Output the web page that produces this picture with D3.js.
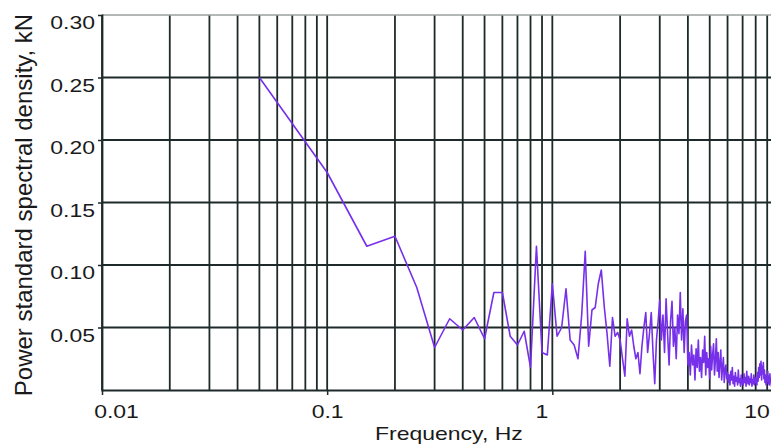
<!DOCTYPE html>
<html>
<head>
<meta charset="utf-8">
<script src="https://cdn.jsdelivr.net/npm/d3@7"></script>
<style>
  body { margin: 0; background: #ffffff; }
  svg { display: block; }
  text { font-family: "Liberation Sans", Arial, sans-serif; fill: #1a1a1a; }
</style>
</head>
<body>
<svg id="chart" width="771" height="447"></svg>
<script>
// frequency resolution of the spectrum (Hz); point i sits at (i + 1) * df
var df = 0.05;

// power standard spectral density, kN
var psd = [
  0.250, 0.174, 0.115, 0.123, 0.082, 0.034, 0.057, 0.048, 0.058, 0.041,
  0.078, 0.078, 0.043, 0.036, 0.047, 0.018, 0.115, 0.030, 0.028, 0.085,
  0.043, 0.050, 0.081, 0.040, 0.036, 0.025, 0.060, 0.111, 0.035, 0.064,
  0.066, 0.085, 0.096, 0.067, 0.045, 0.019, 0.058, 0.043, 0.046, 0.040,
  0.025, 0.011, 0.057, 0.043, 0.048, 0.035, 0.025, 0.030, 0.013, 0.035,
  0.050, 0.062, 0.030, 0.045, 0.062, 0.030, 0.005, 0.040, 0.055, 0.072,
  0.040, 0.060, 0.030, 0.073, 0.045, 0.020, 0.055, 0.071, 0.035, 0.050,
  0.025, 0.060, 0.045, 0.078, 0.040, 0.065, 0.030, 0.055, 0.060, 0.020,
  0.030, 0.012, 0.036, 0.020, 0.028, 0.008, 0.033, 0.018, 0.040, 0.015,
  0.026, 0.010, 0.032, 0.022, 0.043, 0.012, 0.030, 0.018, 0.025, 0.009,
  0.035, 0.016, 0.028, 0.037, 0.012, 0.024, 0.041, 0.015, 0.030, 0.010,
  0.022, 0.032, 0.008, 0.018, 0.026, 0.006, 0.016, 0.020, 0.009, 0.014,
  0.006, 0.012, 0.004, 0.015, 0.008, 0.018, 0.005, 0.011, 0.003, 0.014,
  0.007, 0.010, 0.004, 0.016, 0.006, 0.009, 0.003, 0.012, 0.005, 0.008,
  0.004, 0.013, 0.006, 0.010, 0.003, 0.015, 0.007, 0.005, 0.011, 0.004,
  0.009, 0.006, 0.013, 0.003, 0.008, 0.005, 0.012, 0.004, 0.010, 0.006,
  0.009, 0.004, 0.014, 0.007, 0.018, 0.010, 0.021, 0.012, 0.023, 0.008,
  0.019, 0.013, 0.022, 0.009, 0.016, 0.006, 0.012, 0.004, 0.010, 0.007,
  0.015, 0.005, 0.011, 0.004, 0.013, 0.006, 0.009, 0.003, 0.008, 0.005
];

var yTicks = [0.05, 0.10, 0.15, 0.20, 0.25, 0.30];
var xTicks = [0.01, 0.1, 1, 10];
var xTickLabels = ["0.01", "0.1", "1", "10"];

var xTitle = "Frequency, Hz";
var yTitle = "Power standard spectral density, kN";

var svg = d3.select("#chart");
var W = 771;
var plotTop = 15, plotBottom = 390;

var x = d3.scaleLog().domain([0.01, 10]).range([102, 777.5]);
var y = d3.scaleLinear().domain([0, 0.3]).range([plotBottom, plotTop]);

var gridColor = "#1e2a29";
var squash = 0.8;   // labels in the source are flattened vertically

// vertical grid, 1..9 per decade
svg.append("g")
  .selectAll("line")
  .data(x.ticks())
  .join("line")
  .attr("x1", function (d) { return x(d); })
  .attr("x2", function (d) { return x(d); })
  .attr("y1", plotTop)
  .attr("y2", plotBottom)
  .attr("stroke", gridColor)
  .attr("stroke-width", 1.8);

// horizontal grid
svg.append("g")
  .selectAll("line")
  .data(yTicks.slice(0, -1))
  .join("line")
  .attr("x1", x(0.01))
  .attr("x2", W)
  .attr("y1", function (d) { return y(d); })
  .attr("y2", function (d) { return y(d); })
  .attr("stroke", gridColor)
  .attr("stroke-width", 1.8);

// top border is lighter
svg.append("line")
  .attr("x1", x(0.01)).attr("x2", W)
  .attr("y1", y(0.3)).attr("y2", y(0.3))
  .attr("stroke", "#9a9fa0")
  .attr("stroke-width", 1.5);

// data line
svg.append("clipPath").attr("id", "plotClip")
  .append("rect")
  .attr("x", x(0.01)).attr("y", plotTop)
  .attr("width", W - x(0.01)).attr("height", plotBottom - plotTop);

var line = d3.line()
  .x(function (d, i) { return x((i + 1) * df); })
  .y(function (d) { return y(d); });

svg.append("path")
  .datum(psd)
  .attr("clip-path", "url(#plotClip)")
  .attr("d", line)
  .attr("fill", "none")
  .attr("stroke", "#7630ea")
  .attr("stroke-width", 1.6)
  .attr("stroke-linejoin", "round");

// y axis
var yAxis = svg.append("g")
  .attr("transform", "translate(" + x(0.01) + ",0)")
  .call(d3.axisLeft(y).tickValues(yTicks).tickSize(4).tickSizeOuter(0).tickFormat(d3.format(".2f")));

yAxis.select(".domain").attr("stroke", gridColor).attr("stroke-width", 1.8);
yAxis.selectAll(".tick line").attr("stroke", gridColor).attr("stroke-width", 1.5);
yAxis.selectAll(".tick text")
  .attr("x", -7)
  .attr("dy", null)
  .attr("y", 13.5 / squash)
  .attr("transform", "scale(1," + squash + ")")
  .attr("font-size", 23)
  .attr("fill", "#1a1a1a");

// x axis
var xLabelShift = [14, 0, -11, -21];

var xAxis = svg.append("g")
  .attr("transform", "translate(0," + plotBottom + ")")
  .call(d3.axisBottom(x).tickValues(xTicks).tickSize(5).tickSizeOuter(0)
    .tickFormat(function (d, i) { return xTickLabels[i]; }));

xAxis.select(".domain").attr("stroke", gridColor).attr("stroke-width", 1.8);
xAxis.selectAll(".tick line").attr("stroke", gridColor).attr("stroke-width", 1.5);
xAxis.selectAll(".tick text")
  .attr("x", function (d, i) { return xLabelShift[i]; })
  .attr("dy", null)
  .attr("y", 28 / squash)
  .attr("transform", "scale(1," + squash + ")")
  .attr("font-size", 23)
  .attr("fill", "#1a1a1a");

svg.selectAll(".domain").attr("stroke-linecap", "square");

// titles
svg.append("text")
  .attr("transform", "translate(375,440) scale(1," + squash + ")")
  .attr("font-size", 23)
  .text(xTitle);

svg.append("text")
  .attr("transform", "translate(32,205) rotate(-90)")
  .attr("text-anchor", "middle")
  .attr("font-size", 24)
  .text(yTitle);
</script>
</body>
</html>
